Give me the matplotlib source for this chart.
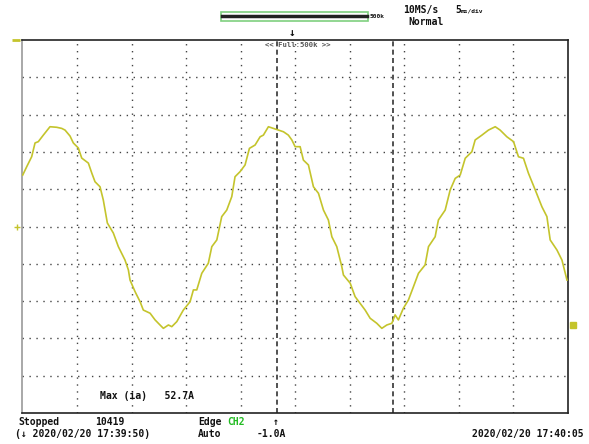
import matplotlib
matplotlib.use("Agg")
import matplotlib.pyplot as plt
from matplotlib.patches import Rectangle

# waveform: time in ms (5 ms/div), current in A (20 A/div)
t_ms = [0.02, 0.39, 0.84, 1.15, 1.45, 1.91, 2.52, 3.14, 3.60, 3.90,
        4.36, 4.66, 5.12, 5.43, 6.04, 6.35, 6.65, 7.11, 7.41, 7.78,
        8.33, 8.79, 9.40, 9.71, 9.86, 10.32, 10.78, 11.08, 11.70, 12.16,
        12.61, 12.92, 13.38, 13.69, 14.15, 14.75, 15.37, 15.67, 15.98, 16.44,
        17.04, 17.36, 17.82, 18.27, 18.73, 19.19, 19.49, 19.95, 20.41, 20.81,
        21.33, 21.79, 22.09, 22.55, 23.01, 23.47, 23.93, 24.38, 24.70, 25.00,
        25.46, 25.76, 26.22, 26.68, 27.14, 27.60, 28.05, 28.37, 28.82, 29.28,
        29.43, 30.05, 30.50, 30.96, 31.42, 31.88, 32.49, 32.95, 33.41, 33.87,
        34.17, 34.47, 34.93, 35.39, 35.85, 36.31, 36.92, 37.23, 37.84, 38.14,
        38.76, 39.22, 39.68, 40.14, 40.60, 41.21, 41.51, 42.13, 42.73, 43.35,
        43.80, 44.42, 45.03, 45.48, 45.94, 46.40, 47.02, 47.63, 48.09, 48.39,
        49.01, 49.47, 49.93]
i_amp = [27.6, 32.1, 37.4, 44.8, 45.5, 49.0, 53.5, 53.2, 52.6, 51.7,
         48.5, 44.8, 42.1, 36.7, 34.0, 28.7, 24.0, 21.3, 14.2, 1.9,
         -3.5, -10.8, -18.0, -23.3, -28.7, -34.9, -40.3, -44.8, -46.5, -50.1,
         -52.8, -54.6, -52.8, -53.7, -51.0, -44.8, -40.3, -34.0, -34.0, -25.1,
         -19.7, -10.8, -7.2, 5.3, 8.8, 16.0, 26.7, 29.4, 33.0, 41.9,
         43.7, 48.1, 49.0, 53.5, 52.6, 51.7, 50.8, 49.0, 46.4, 42.8,
         42.8, 35.6, 33.0, 21.3, 17.8, 8.8, 3.5, -5.5, -10.8, -21.5,
         -26.0, -30.4, -37.6, -41.2, -44.8, -49.2, -51.9, -54.6, -52.8, -51.9,
         -47.4, -50.1, -43.8, -39.4, -32.3, -25.1, -20.6, -10.8, -5.5, 3.5,
         8.8, 19.6, 25.8, 27.6, 36.6, 40.1, 46.4, 49.0, 51.7, 53.5,
         51.7, 48.1, 45.5, 37.4, 36.6, 28.5, 19.6, 10.6, 5.3, -7.2,
         -12.6, -18.0, -28.7]

cursor_ms = [23.35, 33.99]
level_marker_a = -53.0
max_label = "Max (ia)   52.7A"

TRACE = "#c4c42c"
GRID = "#444444"
MONO = "DejaVu Sans Mono"

fig = plt.figure(figsize=(5.89, 4.44), dpi=100)
ax = fig.add_axes([0.0382, 0.0698, 0.9257, 0.8401])
ax.set_xlim(0, 50)
ax.set_ylim(-100, 100)

# dotted screen grid
for k in range(1, 10):
    ax.axvline(k * 5, color=GRID, lw=1.0, ls=(0, (1, 4)), zorder=1)
    ax.axhline(-100 + k * 20, color=GRID, lw=1.0, ls=(0, (1, 4)), zorder=1)

for c in cursor_ms:
    ax.axvline(c, color="#333333", lw=1.2, ls=(0, (3, 2)), zorder=2)

ax.plot(t_ms, i_amp, color=TRACE, lw=1.2, zorder=3)

ax.set_xticks([]); ax.set_yticks([])
for s in ["top", "right", "bottom"]:
    ax.spines[s].set_color("#222222")
ax.spines["left"].set_color("#999999")
for s in ax.spines.values():
    s.set_linewidth(1.2)

ax.text(7.1, -91, max_label, fontsize=7, family=MONO, weight="bold",
        va="center", ha="left", color="#111111")

# markers outside the screen
ax.plot([-0.6], [100], marker="_", color=TRACE, ms=6, mew=2, clip_on=False)
ax.plot([-0.5], [0], marker="+", color=TRACE, ms=4, mew=1, clip_on=False)
ax.plot([50.5], [level_marker_a], marker="s", color=TRACE, ms=5, clip_on=False)


def ftext(x, y, s, size=7, color="#111111", ha="left", **kw):
    fig.text(x / 589, 1 - y / 444, s, fontsize=size, family=MONO, weight="bold",
             color=color, ha=ha, va="center", **kw)


# top status bar
fig.patches.append(Rectangle((221 / 589, 1 - 21 / 444), 147 / 589, 9 / 444,
                             transform=fig.transFigure, fill=False,
                             edgecolor="#7fd07f", lw=1.2))
fig.lines.append(plt.Line2D([222 / 589, 367 / 589], [1 - 16.5 / 444] * 2,
                            transform=fig.transFigure, color="#222222", lw=2.5))
ftext(370, 16, "500k", size=4.5)
ftext(403, 10, "10MS/s", size=7)
ftext(408, 22, "Normal", size=7)
ftext(455, 10, "5", size=7)
ftext(461, 11, "ms/div", size=4.5)
ftext(292, 33, "\u2193", size=8, ha="center")
ftext(265, 45, "<< Full:500k >>", size=5.2, color="#555555")

# bottom status lines
ftext(18, 422, "Stopped")
ftext(95, 422, "10419")
ftext(15, 434, "(\u2193 2020/02/20 17:39:50)")
ftext(198, 422, "Edge")
ftext(227, 422, "CH2", color="#22bb22")
ftext(276, 422, "\u2191", size=7, ha="center")
ftext(198, 434, "Auto")
ftext(257, 434, "-1.0A")
ftext(472, 434, "2020/02/20 17:40:05")

fig.savefig("out.png", dpi=100)
